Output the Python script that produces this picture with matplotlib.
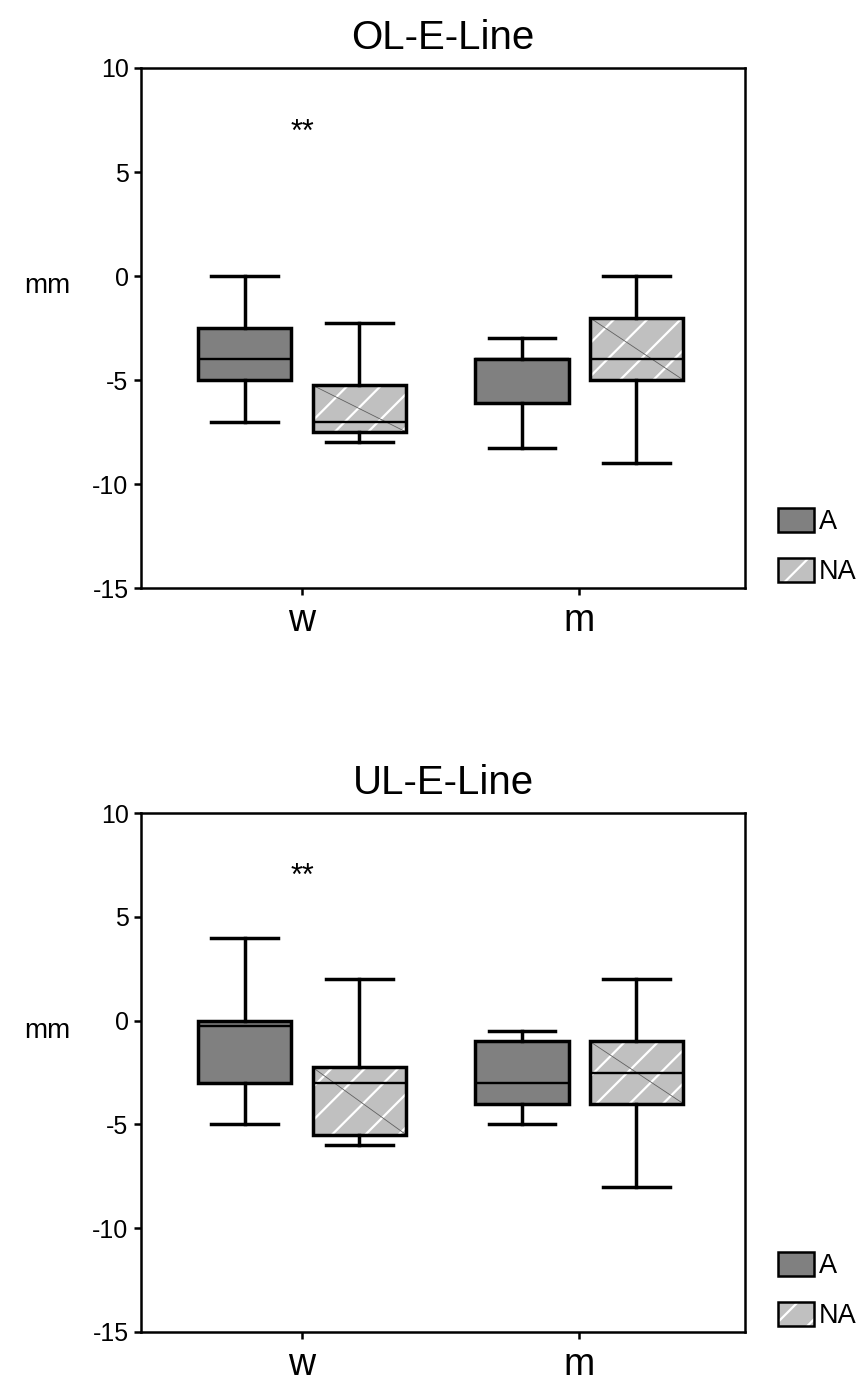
import matplotlib.pyplot as plt
from matplotlib.patches import Patch

plt.rcParams['font.family'] = ['Liberation Sans', 'DejaVu Sans']
plt.rcParams['hatch.linewidth'] = 1.6

# groups on the x axis and the two series
groups = ['w', 'm']
series = ['A', 'NA']

# box stats per panel, order: w-A, w-NA, m-A, m-NA
ol_whislo = [-7, -8, -8.25, -9]
ol_q1 = [-5, -7.5, -6.1, -5]
ol_med = [-4, -7, -4, -4]
ol_q3 = [-2.5, -5.25, -4, -2]
ol_whishi = [0, -2.25, -3, 0]

ul_whislo = [-5, -6, -5, -8]
ul_q1 = [-3, -5.5, -4, -4]
ul_med = [-0.25, -3, -3, -2.5]
ul_q3 = [0, -2.25, -1, -1]
ul_whishi = [4, 2, -0.5, 2]

panels = [
    ('OL-E-Line', ol_whislo, ol_q1, ol_med, ol_q3, ol_whishi),
    ('UL-E-Line', ul_whislo, ul_q1, ul_med, ul_q3, ul_whishi),
]

colA = '#808080'
colNA = '#c0c0c0'
offset = 0.207
bw = 0.338

fig = plt.figure(figsize=(8.63, 13.82), dpi=100)
axes = [fig.add_axes([0.1634, 0.5745, 0.700, 0.3763]),
        fig.add_axes([0.1634, 0.0362, 0.700, 0.3755])]

for ax, (title, wlo, q1, med, q3, whi) in zip(axes, panels):
    pos = []
    for g in range(len(groups)):
        pos += [g + 1 - offset, g + 1 + offset]
    stats = []
    for i in range(4):
        stats.append(dict(whislo=wlo[i], q1=q1[i], med=med[i], q3=q3[i],
                          whishi=whi[i], fliers=[]))
    # hatched fill for NA boxes (white hatch)
    for i in (1, 3):
        ax.bar(pos[i], q3[i] - q1[i], bottom=q1[i], width=bw, color=colNA,
               edgecolor='white', linewidth=0, hatch='/', zorder=1)
        ax.plot([pos[i] - bw / 2, pos[i] + bw / 2], [q3[i], q1[i]],
                color='#606060', lw=0.6, zorder=2)
    bp = ax.bxp(stats, positions=pos, widths=bw, patch_artist=True,
                capwidths=[0.24] * 4, showfliers=False,
                boxprops=dict(linewidth=2.5, edgecolor='black'),
                whiskerprops=dict(linewidth=2.5, color='black'),
                capprops=dict(linewidth=2.5, color='black'),
                medianprops=dict(linewidth=1.7, color='black'),
                manage_ticks=False, zorder=3)
    for i, b in enumerate(bp['boxes']):
        b.set_facecolor(colA if i % 2 == 0 else 'none')

    ax.set_xlim(0.419, 2.599)
    ax.set_ylim(-15, 10)
    ax.set_yticks([10, 5, 0, -5, -10, -15])
    ax.set_yticklabels(['10', '5', '0', '-5', '-10', '-15'])
    ax.set_xticks([1, 2])
    ax.set_xticklabels(groups)
    ax.tick_params(axis='y', labelsize=18, length=5, width=1.8, pad=4)
    ax.tick_params(axis='x', labelsize=27, length=5, width=1.8, pad=6)
    for s in ax.spines.values():
        s.set_linewidth(1.8)
    ax.set_title(title, fontsize=29, pad=14)
    ax.text(-0.155, 0.58, 'mm', transform=ax.transAxes, ha='center',
            va='center', fontsize=20)
    ax.text(1.0, 6.9, '**', ha='center', va='center', fontsize=22)

    hA = Patch(facecolor=colA, edgecolor='black', linewidth=1.8)
    hNA = (Patch(facecolor=colNA, edgecolor='white', linewidth=0, hatch='/'),
           Patch(facecolor='none', edgecolor='black', linewidth=1.8))
    ax.legend([hA, hNA], series, loc='lower left', bbox_to_anchor=(1.055, 0.005),
              frameon=False, fontsize=19.5, handlelength=1.3, handleheight=0.95,
              handletextpad=0.2, labelspacing=0.85, borderpad=0, borderaxespad=0)

fig.savefig('out.png', dpi=100)
